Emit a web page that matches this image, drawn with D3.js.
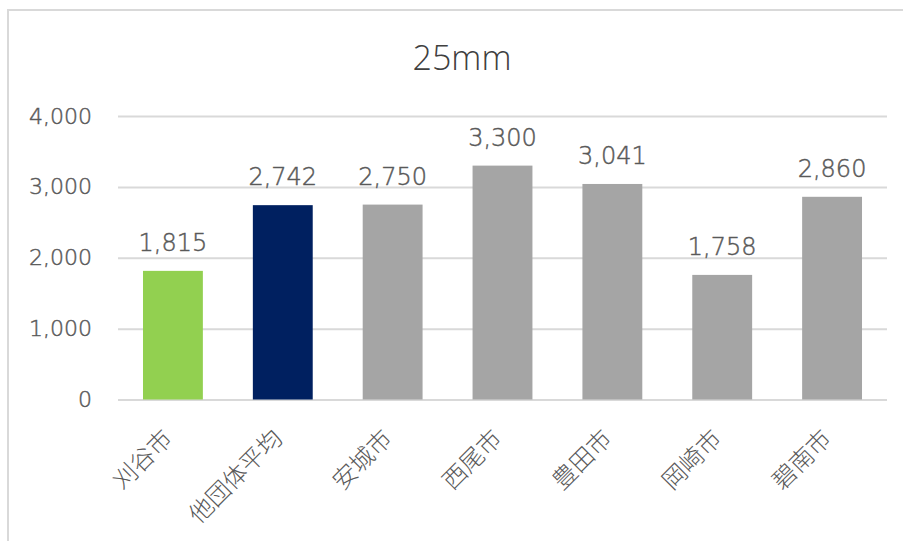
<!DOCTYPE html>
<html>
<head>
<meta charset="utf-8">
<script src="https://cdn.jsdelivr.net/npm/d3@7/dist/d3.min.js"></script>
<style>
  html, body { margin: 0; padding: 0; background: #fff; }
  svg { display: block; }
</style>
</head>
<body>
<svg id="chart" width="903" height="541"></svg>
<script>
// 25mm rainfall figures by municipality
const categories = ["刈谷市", "他団体平均", "安城市", "西尾市", "豊田市", "岡崎市", "碧南市"];
const values = [1815, 2742, 2750, 3300, 3041, 1758, 2860];
const barColors = ["#92d050", "#002060", "#a5a5a5", "#a5a5a5", "#a5a5a5", "#a5a5a5", "#a5a5a5"];
const yTicks = [0, 1000, 2000, 3000, 4000];
const title = "25mm";

(function draw() {
  const svg = d3.select("#chart");
  const W = 903, H = 541;
  const plotLeft = 118, plotRight = 887, plotTop = 116, plotBottom = 399.5;
  const numFont = "'DejaVu Sans', Verdana, sans-serif";

  // chart area frame (runs off the right and bottom edges)
  svg.append("rect")
    .attr("x", 8).attr("y", 10)
    .attr("width", W + 20).attr("height", H + 20)
    .attr("fill", "#fff")
    .attr("stroke", "#d9d9d9").attr("stroke-width", 2);

  svg.append("text")
    .attr("x", 462).attr("y", 70)
    .attr("text-anchor", "middle")
    .attr("font-family", "'Open Sans', sans-serif")
    .attr("font-weight", 300)
    .attr("font-size", 34)
    .attr("fill", "#404040")
    .text(title);

  const x = d3.scaleBand().domain(categories).range([plotLeft, plotRight])
    .paddingInner(0.455).paddingOuter(0.2275);
  const y = d3.scaleLinear().domain([0, 4000]).range([plotBottom, plotTop]);

  // gridlines and value axis labels
  const yAxis = d3.axisLeft(y).tickValues(yTicks).tickSize(-(plotRight - plotLeft)).tickPadding(26)
    .tickFormat(d3.format(","));
  const gy = svg.append("g").attr("transform", `translate(${plotLeft},0)`).call(yAxis);
  gy.select(".domain").remove();
  gy.selectAll(".tick line").attr("stroke", "#d9d9d9").attr("stroke-width", 2);
  gy.selectAll(".tick text")
    .attr("font-family", numFont)
    .attr("font-weight", 200)
    .attr("font-size", 22)
    .attr("fill", "#595959")
    .attr("stroke", "#595959")
    .attr("stroke-width", 0.45);

  // bars
  svg.append("g").selectAll("rect")
    .data(values)
    .join("rect")
    .attr("x", (d, i) => x(categories[i]))
    .attr("y", d => y(d))
    .attr("width", x.bandwidth())
    .attr("height", d => y(0) - y(d))
    .attr("fill", (d, i) => barColors[i]);

  // value labels
  svg.append("g").selectAll("text")
    .data(values)
    .join("text")
    .attr("x", (d, i) => x(categories[i]) + x.bandwidth() / 2)
    .attr("y", d => y(d) - 20)
    .attr("text-anchor", "middle")
    .attr("font-family", numFont)
    .attr("font-weight", 200)
    .attr("font-size", 24)
    .attr("fill", "#595959")
    .attr("stroke", "#595959")
    .attr("stroke-width", 0.45)
    .text(d => d3.format(",")(d));

  // category labels
  svg.append("g").selectAll("text")
    .data(categories)
    .join("text")
    .attr("transform", d => `translate(${x(d) + x.bandwidth() / 2 + 1},440) rotate(-45)`)
    .attr("text-anchor", "end")
    .attr("font-family", "'Noto Sans CJK JP', sans-serif")
    .attr("font-weight", 300)
    .attr("font-size", 24)
    .attr("fill", "#595959")
    .text(d => d);
})();
</script>
</body>
</html>
